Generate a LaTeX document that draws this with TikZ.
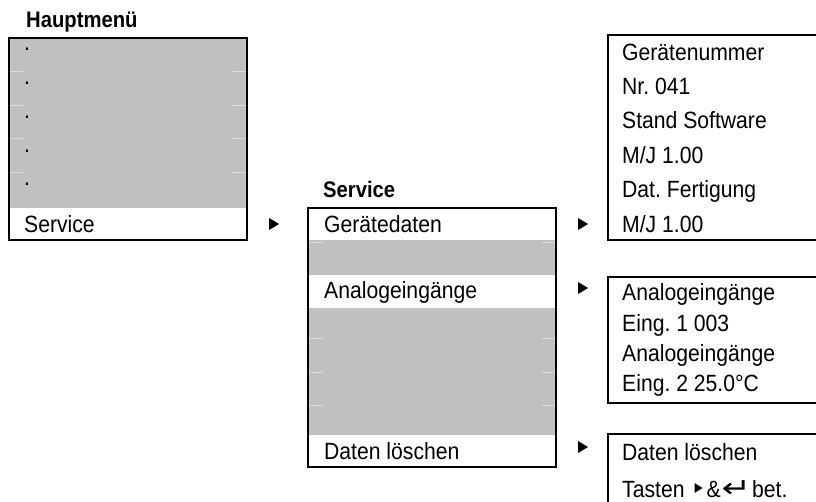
\documentclass[tikz,border=0pt]{standalone}
\usepackage{fontspec}
\setmainfont{Liberation Sans}[FakeStretch=0.9]
\newfontfamily\symfont{DejaVu Sans}
\usetikzlibrary{calc}
\definecolor{rowgray}{HTML}{C0C0C0}
\definecolor{seam}{HTML}{DCDCDC}
\frenchspacing
% small right-pointing key marker used inside text
\newcommand{\keymark}{\tikz[baseline=0pt,x=1pt,y=1pt]{\fill[black] (0,4) -- (8,9) -- (0,14) -- cycle;}}

\begin{document}
\begin{tikzpicture}[x=1pt,y=-1pt,
  frame/.style={draw=black,line width=2.2pt},
  shade/.style={fill=rowgray},
  seamline/.style={draw=seam,line width=0.9pt},
  txt/.style={anchor=base west,inner sep=0pt,font=\fontsize{23.5}{27}\selectfont},
  head/.style={anchor=base west,inner sep=0pt,font=\fontsize{22.5}{26}\selectfont\bfseries},
  pointer/.pic={\fill[black] (-5,-6) -- (5,0) -- (-5,6) -- cycle;}]
\useasboundingbox (0,0) rectangle (816,502);
\clip (0,0) rectangle (816,502);

% ---------- main menu ----------
\node[head] (hmlabel) at (26,28) {Hauptmenü};
\fill[shade] (9,38) rectangle (247,208);
\foreach \y in {71,105,138,172} {
  \draw[seamline] (9,\y) -- (23,\y);
  \draw[seamline] (232,\y) -- (247,\y);
}
\foreach \y in {51,85,119,153,186} {
  \node[txt] at (24,\y) {.};
}
\node[txt] (hmservice) at (24,233) {Service};
\draw[frame] (9,38) rectangle (247,240);

% ---------- service menu ----------
\node[head] (svlabel) at (323,198) {Service};
\fill[shade] (308,240) rectangle (556,275);
\fill[shade] (308,308) rectangle (556,435);
\foreach \y in {242,338,372,405} {
  \draw[seamline] (308,\y) -- (323,\y);
  \draw[seamline] (542,\y) -- (556,\y);
}
\node[txt] (svdev) at (324,233) {Gerätedaten};
\node[txt] (svana) at (324,299) {Analogeingänge};
\node[txt] (svdel) at (324,459) {Daten löschen};
\draw[frame] (308,208) rectangle (556,467);

% ---------- detail screens ----------
\draw[frame] (830,35) -- (608,35) -- (608,240) -- (830,240);
\node[txt] (d1) at (622,61)  {Gerätenummer};
\node[txt] (d2) at (622,95)  {Nr. 041};
\node[txt] (d3) at (622,129) {Stand Software};
\node[txt] (d4) at (622,164) {M/J 1.00};
\node[txt] (d5) at (622,198) {Dat. Fertigung};
\node[txt] (d6) at (622,233) {M/J 1.00};

\draw[frame] (830,277) -- (608,277) -- (608,403) -- (830,403);
\node[txt] (a1) at (622,301) {Analogeingänge};
\node[txt] (a2) at (622,331) {Eing. 1 003};
\node[txt] (a3) at (622,361) {Analogeingänge};
\node[txt] (a4) at (622,391) {Eing. 2 25.0°C};

\draw[frame] (830,434) -- (608,434) -- (608,510);
\node[txt] (x1) at (622,460) {Daten löschen};
\node[txt] (x2) at (622,497) {Tasten\hspace{10pt}\keymark\hspace{4pt}\&\hspace{1pt}\scalebox{1.5}[1.15]{\symfont ↵}\hspace{1pt}bet.};

% ---------- pointers between screens ----------
\pic at (274,224) {pointer};
\pic at (583,224) {pointer};
\pic at (583,288) {pointer};
\pic at (583,447) {pointer};
\end{tikzpicture}
\end{document}
